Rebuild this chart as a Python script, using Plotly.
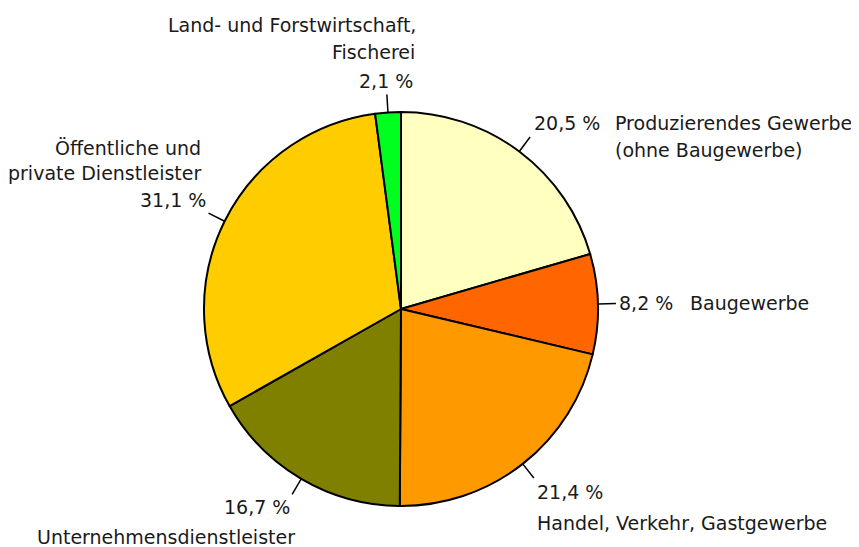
import math
import plotly.graph_objects as go

W, H = 859, 547
# the page body adds an 8px margin around the plot
OFF = 8
FW, FH = W - OFF, H - OFF

# slices, clockwise from 12 o'clock
sectors = [
    'Produzierendes Gewerbe (ohne Baugewerbe)',
    'Baugewerbe',
    'Handel, Verkehr, Gastgewerbe',
    'Unternehmensdienstleister',
    'Öffentliche und private Dienstleister',
    'Land- und Forstwirtschaft, Fischerei',
]
shares = [20.5, 8.2, 21.4, 16.7, 31.1, 2.1]
colors = ['#FFFFC0', '#FF6600', '#FF9900', '#808000', '#FFCC00', '#00FF1E']
share_labels = ['20,5 %', '8,2 %', '21,4 %', '16,7 %', '31,1 %', '2,1 %']

# pie geometry in screen pixels
cx, cy, r = 401, 309, 197


def px(x, y):
    return (x - OFF) / FW, 1 - (y - OFF) / FH


dx0, dy0 = px(cx - r, cy + r)
dx1, dy1 = px(cx + r, cy - r)

fig = go.Figure(
    go.Pie(
        labels=sectors,
        values=shares,
        sort=False,
        direction='clockwise',
        rotation=0,
        textinfo='none',
        hoverinfo='label+value',
        marker=dict(colors=colors, line=dict(color='black', width=2)),
        domain=dict(x=[dx0, dx1], y=[dy0, dy1]),
        showlegend=False,
    )
)

# leader lines at the middle of each slice
total = sum(shares)
start = 0.0
for v in shares:
    mid = (start + v / 2) / total * 2 * math.pi
    start += v
    x0, y0 = px(cx + r * math.sin(mid), cy - r * math.cos(mid))
    x1, y1 = px(cx + (r + 18) * math.sin(mid), cy - (r + 18) * math.cos(mid))
    fig.add_shape(type='line', xref='paper', yref='paper', x0=x0, y0=y0, x1=x1, y1=y1,
                  line=dict(color='black', width=1.5))

font = dict(family='DejaVu Sans', size=19, color='#1a1a1a')


def label(text, x, y, anchor):
    ax, ay = px(x, y)
    fig.add_annotation(text=text, x=ax, y=ay, xref='paper', yref='paper',
                       xanchor=anchor, yanchor='middle', showarrow=False, font=font)


label('Land- und Forstwirtschaft,', 418, 25, 'right')
label('Fischerei', 417, 52, 'right')
label(share_labels[5], 415, 81, 'right')

label('Öffentliche und', 203, 148, 'right')
label('private Dienstleister', 203, 173, 'right')
label(share_labels[4], 208, 200, 'right')

label(share_labels[0], 532, 123, 'left')
label('Produzierendes Gewerbe', 613, 123, 'left')
label('(ohne Baugewerbe)', 613, 150, 'left')

label(share_labels[1], 617, 303, 'left')
label('Baugewerbe', 688, 303, 'left')

label(share_labels[2], 535, 492, 'left')
label('Handel, Verkehr, Gastgewerbe', 535, 523, 'left')

label(share_labels[3], 292, 507, 'right')
label('Unternehmensdienstleister', 35, 537, 'left')

fig.update_layout(
    width=FW, height=FH,
    margin=dict(l=0, r=0, t=0, b=0),
    paper_bgcolor='white',
    plot_bgcolor='white',
)

fig.write_html('out.html')
